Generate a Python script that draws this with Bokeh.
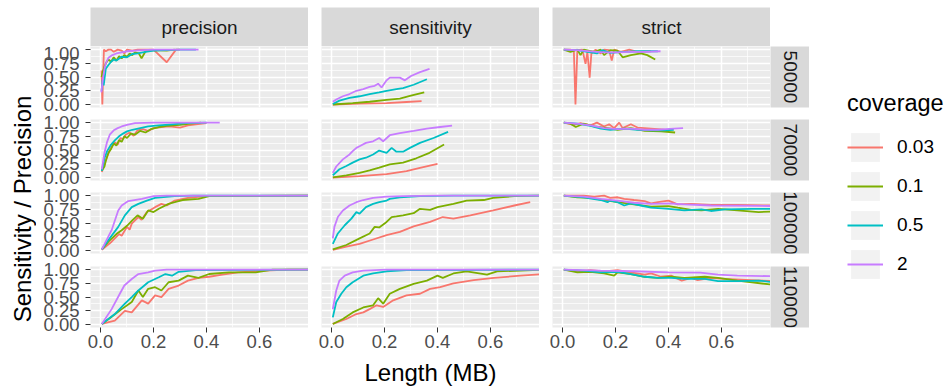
import math

from bokeh.core.properties import value
from bokeh.embed import file_html
from bokeh.layouts import column, row
from bokeh.models import FixedTicker, Label, Legend, LegendItem, Range1d
from bokeh.plotting import figure
from bokeh.resources import INLINE

# ---------------------------------------------------------------- facets / groups
METRICS = ["precision", "sensitivity", "strict"]
READ_LENGTHS = ["50000", "70000", "100000", "110000"]
COVERAGES = ["0.03", "0.1", "0.5", "2"]
COVERAGE_COLORS = ["#F8766D", "#7CAE00", "#00BFC4", "#C77CFF"]

X_TICKS = [0.0, 0.2, 0.4, 0.6]
X_TICK_LABELS = ["0.0", "0.2", "0.4", "0.6"]
X_MINOR = [0.1, 0.3, 0.5, 0.7]
Y_TICKS = [0.0, 0.25, 0.5, 0.75, 1.0]
Y_TICK_LABELS = ["0.00", "0.25", "0.50", "0.75", "1.00"]
Y_MINOR = [0.125, 0.375, 0.625, 0.875]

X_TITLE = "Length (MB)"
Y_TITLE = "Sensitivity / Precision"
LEGEND_TITLE = "coverage"

# ---------------------------------------------------------------- precision
prec_50000_c003_x = [0.004, 0.007, 0.010, 0.013, 0.02, 0.03, 0.04, 0.05, 0.065, 0.08, 0.09, 0.10, 0.12, 0.14, 0.16, 0.20, 0.25, 0.285, 0.30]
prec_50000_c003_y = [0.62, 0.00, 0.55, 1.00, 0.97, 1.00, 1.00, 0.96, 1.00, 0.98, 0.93, 1.00, 0.98, 1.00, 1.00, 1.00, 0.77, 1.00, 1.00]
prec_50000_c01_x = [0.004, 0.01, 0.02, 0.03, 0.04, 0.05, 0.06, 0.07, 0.08, 0.09, 0.10, 0.11, 0.12, 0.13, 0.145, 0.155, 0.17, 0.20, 0.25, 0.28]
prec_50000_c01_y = [0.50, 0.62, 0.75, 0.82, 0.78, 0.86, 0.80, 0.88, 0.84, 0.90, 0.87, 0.93, 0.90, 0.95, 0.93, 0.84, 0.97, 0.99, 0.98, 1.00]
prec_50000_c05_x = [0.004, 0.008, 0.012, 0.02, 0.03, 0.04, 0.05, 0.06, 0.08, 0.10, 0.12, 0.14, 0.17, 0.20, 0.25, 0.30, 0.36]
prec_50000_c05_y = [0.25, 0.45, 0.35, 0.65, 0.72, 0.78, 0.82, 0.80, 0.87, 0.86, 0.92, 0.93, 0.96, 0.98, 0.99, 1.00, 1.00]
prec_50000_c2_x = [0.003, 0.01, 0.015, 0.02, 0.03, 0.045, 0.06, 0.08, 0.10, 0.13, 0.16, 0.20, 0.30, 0.37]
prec_50000_c2_y = [0.22, 0.50, 0.65, 0.75, 0.85, 0.90, 0.93, 0.95, 0.97, 0.98, 0.99, 1.00, 1.00, 1.00]

prec_70000_c003_x = [0.005, 0.015, 0.025, 0.035, 0.045, 0.055, 0.065, 0.075, 0.085, 0.095, 0.11, 0.125, 0.14, 0.16, 0.18, 0.20, 0.23, 0.26, 0.30, 0.33, 0.36, 0.40]
prec_70000_c003_y = [0.10, 0.25, 0.38, 0.50, 0.58, 0.64, 0.60, 0.72, 0.70, 0.78, 0.82, 0.76, 0.86, 0.88, 0.85, 0.90, 0.92, 0.93, 0.91, 0.95, 0.97, 0.99]
prec_70000_c01_x = [0.005, 0.015, 0.02, 0.03, 0.04, 0.05, 0.06, 0.07, 0.08, 0.09, 0.10, 0.115, 0.13, 0.15, 0.17, 0.19, 0.22, 0.25, 0.30, 0.34, 0.38]
prec_70000_c01_y = [0.12, 0.20, 0.30, 0.45, 0.52, 0.62, 0.58, 0.68, 0.65, 0.75, 0.72, 0.80, 0.78, 0.85, 0.82, 0.88, 0.92, 0.94, 0.96, 0.98, 1.00]
prec_70000_c05_x = [0.005, 0.015, 0.025, 0.04, 0.055, 0.07, 0.085, 0.10, 0.12, 0.15, 0.18, 0.22, 0.27, 0.32, 0.40]
prec_70000_c05_y = [0.12, 0.35, 0.48, 0.60, 0.68, 0.75, 0.80, 0.84, 0.87, 0.90, 0.93, 0.95, 0.97, 0.99, 1.00]
prec_70000_c2_x = [0.005, 0.015, 0.025, 0.035, 0.05, 0.065, 0.08, 0.10, 0.13, 0.20, 0.30, 0.45]
prec_70000_c2_y = [0.15, 0.45, 0.65, 0.78, 0.86, 0.90, 0.93, 0.96, 0.99, 1.00, 1.00, 1.00]

prec_100000_c003_x = [0.005, 0.042, 0.07, 0.08, 0.10, 0.11, 0.118, 0.143, 0.155, 0.175, 0.206, 0.23, 0.25, 0.28, 0.33, 0.40, 0.80]
prec_100000_c003_y = [0.01, 0.16, 0.30, 0.27, 0.43, 0.38, 0.49, 0.61, 0.56, 0.70, 0.79, 0.85, 0.82, 0.91, 0.96, 0.99, 1.00]
prec_100000_c01_x = [0.005, 0.03, 0.06, 0.08, 0.10, 0.12, 0.14, 0.16, 0.18, 0.20, 0.22, 0.257, 0.28, 0.31, 0.37, 0.41, 0.80]
prec_100000_c01_y = [0.02, 0.16, 0.30, 0.37, 0.45, 0.55, 0.64, 0.58, 0.73, 0.70, 0.76, 0.85, 0.88, 0.92, 0.94, 0.99, 1.00]
prec_100000_c05_x = [0.005, 0.03, 0.067, 0.092, 0.118, 0.143, 0.175, 0.206, 0.28, 0.35, 0.80]
prec_100000_c05_y = [0.02, 0.19, 0.43, 0.64, 0.79, 0.85, 0.91, 0.96, 0.99, 1.00, 1.00]
prec_100000_c2_x = [0.005, 0.042, 0.067, 0.08, 0.105, 0.156, 0.20, 0.25, 0.80]
prec_100000_c2_y = [0.02, 0.37, 0.73, 0.82, 0.90, 0.94, 0.99, 1.00, 1.00]

prec_110000_c003_x = [0.005, 0.054, 0.092, 0.118, 0.156, 0.18, 0.206, 0.23, 0.257, 0.295, 0.33, 0.37, 0.41, 0.46, 0.52, 0.62, 0.71, 0.80]
prec_110000_c003_y = [0.01, 0.07, 0.25, 0.22, 0.44, 0.38, 0.53, 0.50, 0.65, 0.71, 0.80, 0.85, 0.87, 0.91, 0.95, 0.98, 1.00, 1.00]
prec_110000_c01_x = [0.005, 0.04, 0.08, 0.118, 0.143, 0.16, 0.18, 0.206, 0.23, 0.257, 0.295, 0.33, 0.37, 0.41, 0.485, 0.586, 0.65, 0.80]
prec_110000_c01_y = [0.01, 0.13, 0.28, 0.41, 0.62, 0.50, 0.65, 0.68, 0.62, 0.77, 0.80, 0.89, 0.85, 0.92, 0.95, 0.95, 1.00, 1.00]
prec_110000_c05_x = [0.005, 0.054, 0.092, 0.118, 0.143, 0.18, 0.22, 0.245, 0.27, 0.295, 0.36, 0.80]
prec_110000_c05_y = [0.01, 0.19, 0.38, 0.50, 0.62, 0.77, 0.86, 0.92, 0.89, 0.96, 0.99, 1.00]
prec_110000_c2_x = [0.005, 0.042, 0.073, 0.09, 0.118, 0.143, 0.18, 0.206, 0.25, 0.80]
prec_110000_c2_y = [0.01, 0.28, 0.56, 0.71, 0.83, 0.92, 0.95, 0.98, 1.00, 1.00]

# ---------------------------------------------------------------- sensitivity
sens_50000_c003_x = [0.005, 0.106, 0.208, 0.283, 0.34]
sens_50000_c003_y = [0.00, 0.015, 0.025, 0.045, 0.06]
sens_50000_c01_x = [0.005, 0.08, 0.144, 0.208, 0.258, 0.296, 0.35]
sens_50000_c01_y = [0.00, 0.025, 0.05, 0.085, 0.105, 0.155, 0.22]
sens_50000_c05_x = [0.005, 0.03, 0.068, 0.106, 0.144, 0.18, 0.208, 0.245, 0.27, 0.31, 0.36]
sens_50000_c05_y = [0.01, 0.07, 0.12, 0.15, 0.19, 0.22, 0.25, 0.28, 0.30, 0.36, 0.46]
sens_50000_c2_x = [0.005, 0.018, 0.043, 0.068, 0.094, 0.12, 0.144, 0.163, 0.176, 0.189, 0.208, 0.22, 0.258, 0.277, 0.30, 0.334, 0.37]
sens_50000_c2_y = [0.05, 0.09, 0.15, 0.19, 0.25, 0.28, 0.32, 0.34, 0.38, 0.31, 0.44, 0.49, 0.49, 0.44, 0.52, 0.59, 0.65]

sens_70000_c003_x = [0.005, 0.106, 0.208, 0.283, 0.334, 0.40]
sens_70000_c003_y = [0.00, 0.025, 0.06, 0.115, 0.175, 0.25]
sens_70000_c01_x = [0.005, 0.056, 0.106, 0.144, 0.18, 0.22, 0.27, 0.32, 0.37, 0.425]
sens_70000_c01_y = [0.00, 0.04, 0.085, 0.13, 0.18, 0.24, 0.27, 0.35, 0.45, 0.60]
sens_70000_c05_x = [0.005, 0.03, 0.056, 0.08, 0.106, 0.13, 0.157, 0.18, 0.208, 0.227, 0.245, 0.27, 0.296, 0.334, 0.385, 0.44]
sens_70000_c05_y = [0.04, 0.15, 0.21, 0.27, 0.33, 0.36, 0.42, 0.49, 0.45, 0.54, 0.47, 0.47, 0.54, 0.63, 0.72, 0.83]
sens_70000_c2_x = [0.005, 0.018, 0.043, 0.068, 0.08, 0.094, 0.106, 0.13, 0.157, 0.18, 0.195, 0.22, 0.258, 0.31, 0.36, 0.41, 0.455]
sens_70000_c2_y = [0.085, 0.20, 0.33, 0.42, 0.48, 0.54, 0.57, 0.63, 0.66, 0.72, 0.66, 0.77, 0.81, 0.85, 0.89, 0.92, 0.945]

sens_100000_c003_x = [0.005, 0.056, 0.106, 0.157, 0.208, 0.258, 0.31, 0.372, 0.42, 0.46, 0.524, 0.61, 0.69, 0.75]
sens_100000_c003_y = [0.01, 0.07, 0.12, 0.20, 0.28, 0.34, 0.44, 0.52, 0.61, 0.58, 0.64, 0.73, 0.82, 0.88]
sens_100000_c01_x = [0.005, 0.056, 0.106, 0.144, 0.163, 0.18, 0.208, 0.227, 0.245, 0.27, 0.31, 0.334, 0.372, 0.40, 0.46, 0.51, 0.575, 0.61, 0.69, 0.80]
sens_100000_c01_y = [0.02, 0.10, 0.22, 0.31, 0.43, 0.42, 0.52, 0.61, 0.62, 0.64, 0.68, 0.76, 0.74, 0.79, 0.85, 0.91, 0.92, 0.96, 0.99, 1.00]
sens_100000_c05_x = [0.005, 0.024, 0.05, 0.075, 0.094, 0.106, 0.13, 0.157, 0.18, 0.208, 0.22, 0.258, 0.334, 0.46, 0.80]
sens_100000_c05_y = [0.12, 0.31, 0.46, 0.58, 0.70, 0.67, 0.79, 0.85, 0.88, 0.91, 0.94, 0.97, 0.99, 1.00, 1.00]
sens_100000_c2_x = [0.005, 0.011, 0.024, 0.043, 0.068, 0.094, 0.12, 0.157, 0.208, 0.27, 0.40, 0.80]
sens_100000_c2_y = [0.22, 0.43, 0.61, 0.73, 0.82, 0.88, 0.92, 0.96, 0.98, 0.99, 1.00, 1.00]

sens_110000_c003_x = [0.005, 0.056, 0.094, 0.12, 0.144, 0.17, 0.195, 0.233, 0.283, 0.334, 0.372, 0.41, 0.46, 0.537, 0.613, 0.714, 0.80]
sens_110000_c003_y = [0.01, 0.10, 0.19, 0.22, 0.28, 0.35, 0.32, 0.44, 0.53, 0.56, 0.65, 0.68, 0.75, 0.81, 0.85, 0.89, 0.92]
sens_110000_c01_x = [0.005, 0.043, 0.08, 0.12, 0.157, 0.176, 0.195, 0.22, 0.258, 0.31, 0.36, 0.40, 0.42, 0.46, 0.51, 0.587, 0.625, 0.714, 0.80]
sens_110000_c01_y = [0.01, 0.10, 0.22, 0.31, 0.35, 0.48, 0.38, 0.56, 0.65, 0.74, 0.80, 0.89, 0.85, 0.93, 0.97, 0.91, 0.97, 0.98, 1.00]
sens_110000_c05_x = [0.005, 0.018, 0.037, 0.056, 0.08, 0.10, 0.12, 0.157, 0.208, 0.283, 0.80]
sens_110000_c05_y = [0.13, 0.41, 0.56, 0.68, 0.77, 0.83, 0.89, 0.93, 0.97, 0.99, 1.00]
sens_110000_c2_x = [0.005, 0.018, 0.03, 0.05, 0.08, 0.12, 0.208, 0.80]
sens_110000_c2_y = [0.28, 0.62, 0.80, 0.89, 0.95, 0.98, 1.00, 1.00]

# ---------------------------------------------------------------- strict
strict_50000_c003_x = [0.005, 0.03, 0.043, 0.049, 0.056, 0.075, 0.087, 0.094, 0.1025, 0.109, 0.125, 0.144, 0.157, 0.176, 0.186, 0.195, 0.22, 0.252, 0.283, 0.334]
strict_50000_c003_y = [1.00, 1.00, 0.96, 0.00, 0.99, 1.00, 0.74, 0.96, 0.49, 0.93, 1.00, 0.93, 1.00, 0.99, 0.80, 1.00, 0.96, 1.00, 0.96, 0.97]
strict_50000_c01_x = [0.005, 0.03, 0.056, 0.068, 0.08, 0.12, 0.144, 0.157, 0.18, 0.208, 0.227, 0.258, 0.296, 0.32, 0.35]
strict_50000_c01_y = [1.00, 0.96, 1.00, 0.90, 1.00, 0.96, 1.00, 0.90, 0.99, 0.98, 0.86, 0.90, 0.93, 0.90, 0.82]
strict_50000_c05_x = [0.005, 0.056, 0.094, 0.13, 0.15, 0.18, 0.233, 0.283, 0.36]
strict_50000_c05_y = [1.00, 0.99, 0.96, 0.93, 0.99, 0.94, 0.96, 0.97, 0.97]
strict_50000_c2_x = [0.005, 0.056, 0.106, 0.157, 0.208, 0.258, 0.31, 0.37]
strict_50000_c2_y = [1.00, 0.99, 0.97, 0.95, 0.95, 0.96, 0.96, 0.97]

strict_70000_c003_x = [0.005, 0.043, 0.068, 0.106, 0.13, 0.157, 0.176, 0.195, 0.214, 0.227, 0.258, 0.283, 0.334, 0.385]
strict_70000_c003_y = [1.00, 0.96, 0.99, 0.95, 1.00, 0.93, 0.97, 0.90, 1.00, 0.90, 0.97, 0.91, 0.89, 0.87]
strict_70000_c01_x = [0.005, 0.03, 0.05, 0.08, 0.12, 0.17, 0.208, 0.258, 0.31, 0.372, 0.425]
strict_70000_c01_y = [1.00, 0.98, 0.92, 0.98, 0.93, 0.90, 0.87, 0.90, 0.85, 0.84, 0.82]
strict_70000_c05_x = [0.005, 0.056, 0.106, 0.144, 0.18, 0.233, 0.283, 0.334, 0.385, 0.42]
strict_70000_c05_y = [1.00, 0.98, 0.94, 0.89, 0.87, 0.89, 0.87, 0.86, 0.86, 0.87]
strict_70000_c2_x = [0.005, 0.056, 0.106, 0.157, 0.208, 0.258, 0.31, 0.36, 0.405, 0.455]
strict_70000_c2_y = [1.00, 0.98, 0.95, 0.90, 0.88, 0.89, 0.87, 0.87, 0.885, 0.90]

strict_100000_c003_x = [0.005, 0.08, 0.12, 0.157, 0.18, 0.208, 0.233, 0.27, 0.31, 0.334, 0.36, 0.40, 0.435, 0.486, 0.56, 0.66, 0.80]
strict_100000_c003_y = [1.00, 1.00, 0.98, 1.00, 0.96, 0.97, 0.94, 0.92, 0.90, 0.86, 0.88, 0.91, 0.84, 0.85, 0.83, 0.83, 0.82]
strict_100000_c01_x = [0.005, 0.056, 0.106, 0.157, 0.208, 0.27, 0.334, 0.40, 0.435, 0.486, 0.524, 0.587, 0.66, 0.74, 0.80]
strict_100000_c01_y = [1.00, 0.97, 0.96, 0.92, 0.88, 0.84, 0.80, 0.81, 0.78, 0.74, 0.73, 0.76, 0.73, 0.70, 0.71]
strict_100000_c05_x = [0.005, 0.08, 0.144, 0.17, 0.18, 0.208, 0.233, 0.258, 0.296, 0.334, 0.40, 0.46, 0.524, 0.56, 0.613, 0.714, 0.80]
strict_100000_c05_y = [1.00, 0.97, 0.92, 0.88, 0.91, 0.88, 0.82, 0.86, 0.82, 0.78, 0.76, 0.73, 0.75, 0.72, 0.75, 0.76, 0.76]
strict_100000_c2_x = [0.005, 0.08, 0.144, 0.208, 0.27, 0.334, 0.40, 0.46, 0.56, 0.80]
strict_100000_c2_y = [1.00, 0.98, 0.94, 0.91, 0.87, 0.85, 0.86, 0.84, 0.82, 0.81]

strict_110000_c003_x = [0.005, 0.056, 0.106, 0.157, 0.208, 0.258, 0.31, 0.334, 0.372, 0.41, 0.45, 0.486, 0.51, 0.56, 0.61, 0.71, 0.80]
strict_110000_c003_y = [1.00, 0.97, 0.99, 0.97, 0.99, 0.95, 0.91, 0.93, 0.87, 0.89, 0.80, 0.85, 0.81, 0.85, 0.83, 0.81, 0.79]
strict_110000_c01_x = [0.005, 0.056, 0.106, 0.157, 0.195, 0.208, 0.258, 0.31, 0.36, 0.41, 0.46, 0.537, 0.587, 0.66, 0.80]
strict_110000_c01_y = [1.00, 0.95, 0.96, 0.93, 0.89, 0.95, 0.92, 0.87, 0.85, 0.87, 0.85, 0.87, 0.85, 0.80, 0.72]
strict_110000_c05_x = [0.005, 0.08, 0.144, 0.208, 0.258, 0.31, 0.36, 0.41, 0.46, 0.537, 0.587, 0.66, 0.74, 0.80]
strict_110000_c05_y = [1.00, 0.98, 0.95, 0.96, 0.92, 0.87, 0.85, 0.85, 0.83, 0.83, 0.79, 0.79, 0.80, 0.77]
strict_110000_c2_x = [0.005, 0.144, 0.27, 0.40, 0.52, 0.587, 0.66, 0.80]
strict_110000_c2_y = [1.00, 0.98, 0.97, 0.95, 0.945, 0.91, 0.89, 0.88]

# (metric, read length) -> one (x, y) pair per coverage, in COVERAGES order
SERIES = {
    ("precision", "50000"): [(prec_50000_c003_x, prec_50000_c003_y), (prec_50000_c01_x, prec_50000_c01_y),
                             (prec_50000_c05_x, prec_50000_c05_y), (prec_50000_c2_x, prec_50000_c2_y)],
    ("precision", "70000"): [(prec_70000_c003_x, prec_70000_c003_y), (prec_70000_c01_x, prec_70000_c01_y),
                             (prec_70000_c05_x, prec_70000_c05_y), (prec_70000_c2_x, prec_70000_c2_y)],
    ("precision", "100000"): [(prec_100000_c003_x, prec_100000_c003_y), (prec_100000_c01_x, prec_100000_c01_y),
                              (prec_100000_c05_x, prec_100000_c05_y), (prec_100000_c2_x, prec_100000_c2_y)],
    ("precision", "110000"): [(prec_110000_c003_x, prec_110000_c003_y), (prec_110000_c01_x, prec_110000_c01_y),
                              (prec_110000_c05_x, prec_110000_c05_y), (prec_110000_c2_x, prec_110000_c2_y)],
    ("sensitivity", "50000"): [(sens_50000_c003_x, sens_50000_c003_y), (sens_50000_c01_x, sens_50000_c01_y),
                               (sens_50000_c05_x, sens_50000_c05_y), (sens_50000_c2_x, sens_50000_c2_y)],
    ("sensitivity", "70000"): [(sens_70000_c003_x, sens_70000_c003_y), (sens_70000_c01_x, sens_70000_c01_y),
                               (sens_70000_c05_x, sens_70000_c05_y), (sens_70000_c2_x, sens_70000_c2_y)],
    ("sensitivity", "100000"): [(sens_100000_c003_x, sens_100000_c003_y), (sens_100000_c01_x, sens_100000_c01_y),
                                (sens_100000_c05_x, sens_100000_c05_y), (sens_100000_c2_x, sens_100000_c2_y)],
    ("sensitivity", "110000"): [(sens_110000_c003_x, sens_110000_c003_y), (sens_110000_c01_x, sens_110000_c01_y),
                                (sens_110000_c05_x, sens_110000_c05_y), (sens_110000_c2_x, sens_110000_c2_y)],
    ("strict", "50000"): [(strict_50000_c003_x, strict_50000_c003_y), (strict_50000_c01_x, strict_50000_c01_y),
                          (strict_50000_c05_x, strict_50000_c05_y), (strict_50000_c2_x, strict_50000_c2_y)],
    ("strict", "70000"): [(strict_70000_c003_x, strict_70000_c003_y), (strict_70000_c01_x, strict_70000_c01_y),
                          (strict_70000_c05_x, strict_70000_c05_y), (strict_70000_c2_x, strict_70000_c2_y)],
    ("strict", "100000"): [(strict_100000_c003_x, strict_100000_c003_y), (strict_100000_c01_x, strict_100000_c01_y),
                           (strict_100000_c05_x, strict_100000_c05_y), (strict_100000_c2_x, strict_100000_c2_y)],
    ("strict", "110000"): [(strict_110000_c003_x, strict_110000_c003_y), (strict_110000_c01_x, strict_110000_c01_y),
                           (strict_110000_c05_x, strict_110000_c05_y), (strict_110000_c2_x, strict_110000_c2_y)],
}

# ---------------------------------------------------------------- styling
FONT = "Liberation Sans"
PANEL_BG = "#EBEBEB"
STRIP_BG = "#D9D9D9"
STRIP_TEXT = "#1A1A1A"
TICK_TEXT = "#4D4D4D"
TICK_LINE = "#333333"
KEY_BG = "#F2F2F2"

X_LIMITS = (-0.0377, 0.785)
Y_LIMITS = (-0.055, 1.057)

FRAME_W, FRAME_H = 218, 61
YTITLE_W = 36
COL_LEFT = [54, 13, 13]          # space left of each column's panel (first holds y tick labels)
ROW_TOP = [0, 6, 6, 6]           # room above each row's panel for its top tick label
ROW_BOTTOM = [6, 6, 7, 32]       # room below each row's panel (last row holds x tick labels)
TOP_STRIP_H = 46
TOP_STRIP_PAD = 7
RIGHT_STRIP_W = 39
XTITLE_H = 31
LEGEND_W = 139
TOTAL_H = 390


def base_figure(width, height, **kw):
    opts = dict(width=width, height=height, output_backend="svg", toolbar_location=None,
                min_border=0, outline_line_color=None, border_fill_color="white")
    opts.update(kw)
    return figure(**opts)


def blank_figure(width, height, **kw):
    p = base_figure(width, height, x_range=Range1d(0, 1), y_range=Range1d(0, 1),
                    x_axis_location=None, y_axis_location=None, **kw)
    p.grid.visible = False
    return p


def style_axis(ax, labels):
    ax.major_label_overrides = labels
    ax.axis_line_color = None
    ax.major_tick_in = 0
    ax.major_tick_out = 5
    ax.major_tick_line_color = TICK_LINE
    ax.major_tick_line_width = 1
    ax.minor_tick_line_color = None
    ax.major_label_text_font = FONT
    ax.major_label_text_font_size = "18.5px"
    ax.major_label_text_color = TICK_TEXT


def make_panel(ci, ri):
    metric, rl = METRICS[ci], READ_LENGTHS[ri]
    last_row = ri == len(READ_LENGTHS) - 1
    first_col = ci == 0
    p = base_figure(COL_LEFT[ci] + FRAME_W, ROW_TOP[ri] + FRAME_H + ROW_BOTTOM[ri],
                    x_range=Range1d(*X_LIMITS), y_range=Range1d(*Y_LIMITS),
                    x_axis_location="below" if last_row else None,
                    y_axis_location="left" if first_col else None,
                    min_border_left=COL_LEFT[ci], min_border_top=ROW_TOP[ri],
                    min_border_bottom=ROW_BOTTOM[ri], background_fill_color=PANEL_BG)
    xt = FixedTicker(ticks=X_TICKS, minor_ticks=X_MINOR)
    yt = FixedTicker(ticks=Y_TICKS, minor_ticks=Y_MINOR)
    p.xgrid.ticker = xt
    p.ygrid.ticker = yt
    for g in (p.xgrid, p.ygrid):
        g.grid_line_color = "white"
        g.grid_line_width = 1.5
        g.minor_grid_line_color = "white"
        g.minor_grid_line_width = 0.7
    if last_row:
        p.xaxis.ticker = xt
        style_axis(p.xaxis[0], dict(zip(X_TICKS, X_TICK_LABELS)))
        p.xaxis.major_label_standoff = 2
    if first_col:
        p.yaxis.ticker = yt
        style_axis(p.yaxis[0], dict(zip(Y_TICKS, Y_TICK_LABELS)))
        p.yaxis.major_label_standoff = 6
    for (xs, ys), color in zip(SERIES[(metric, rl)], COVERAGE_COLORS):
        p.line(xs, ys, line_color=color, line_width=1.8)
    return p


def top_strip(ci):
    p = blank_figure(COL_LEFT[ci] + FRAME_W, TOP_STRIP_H, min_border_left=COL_LEFT[ci],
                     min_border_top=TOP_STRIP_PAD, background_fill_color=STRIP_BG)
    p.text(x=[0.5], y=[0.5], text=[METRICS[ci]], text_font=value(FONT), text_font_size=value("19px"),
           text_color=STRIP_TEXT, text_align="center", text_baseline="middle")
    return p


def right_strip(ri):
    p = blank_figure(RIGHT_STRIP_W, ROW_TOP[ri] + FRAME_H + ROW_BOTTOM[ri],
                     min_border_top=ROW_TOP[ri], min_border_bottom=ROW_BOTTOM[ri],
                     background_fill_color=STRIP_BG)
    p.text(x=[0.5], y=[0.5], text=[READ_LENGTHS[ri]], text_font=value(FONT), text_font_size=value("19px"),
           text_color=STRIP_TEXT, text_align="center", text_baseline="middle", angle=-math.pi / 2)
    return p


# ---------------------------------------------------------------- facet grid
grid_rows = [row(*[top_strip(ci) for ci in range(len(METRICS))])]
for ri in range(len(READ_LENGTHS)):
    grid_rows.append(row(*[make_panel(ci, ri) for ci in range(len(METRICS))], right_strip(ri)))

main_w = sum(COL_LEFT) + len(METRICS) * FRAME_W + RIGHT_STRIP_W
xtitle = blank_figure(main_w, XTITLE_H)
xtitle.add_layout(Label(x=COL_LEFT[0] + FRAME_W + COL_LEFT[1] + FRAME_W / 2, y=18,
                        x_units="screen", y_units="screen", text=X_TITLE,
                        text_font=FONT, text_font_size="24px", text_color="black",
                        text_align="center", text_baseline="middle"))
grid_rows.append(xtitle)

# y title: its frame spans exactly the panel stack, text centred on it
stack_h = sum(ROW_TOP[1:]) + len(READ_LENGTHS) * FRAME_H + sum(ROW_BOTTOM[:-1])
ytitle = blank_figure(YTITLE_W, TOTAL_H, min_border_top=TOP_STRIP_H,
                      min_border_bottom=TOTAL_H - TOP_STRIP_H - stack_h)
ytitle.text(x=[21.5 / YTITLE_W], y=[0.5], text=[Y_TITLE], text_font=value(FONT), text_font_size=value("24px"),
            text_color="black", angle=math.pi / 2, text_align="center", text_baseline="middle")

# ---------------------------------------------------------------- legend
leg_fig = blank_figure(LEGEND_W, TOTAL_H, min_border_left=38, min_border_top=90)
items = []
for cov, color in zip(COVERAGES, COVERAGE_COLORS):
    # one off-canvas sample per key so the legend has something to draw from
    key_bg = leg_fig.rect(x=[-5], y=[-5], width=1, height=1, fill_color=KEY_BG, line_color=None)
    key_line = leg_fig.line(x=[-5, -4], y=[-5, -5], line_color=color, line_width=1.8)
    items.append(LegendItem(label=cov, renderers=[key_bg, key_line]))
legend = Legend(items=items, title=LEGEND_TITLE, location="top_left",
                margin=0, padding=0, spacing=3, glyph_width=36, glyph_height=36,
                label_height=36, label_standoff=14, title_standoff=12,
                border_line_color=None, background_fill_alpha=0,
                label_text_font=FONT, label_text_font_size="19px", label_text_color="black",
                title_text_font=FONT, title_text_font_size="23.5px", title_text_font_style="normal",
                title_text_color="black")
leg_fig.add_layout(legend)

layout = row(ytitle, column(*grid_rows), leg_fig)

open("out.html", "w").write(file_html(layout, INLINE))
